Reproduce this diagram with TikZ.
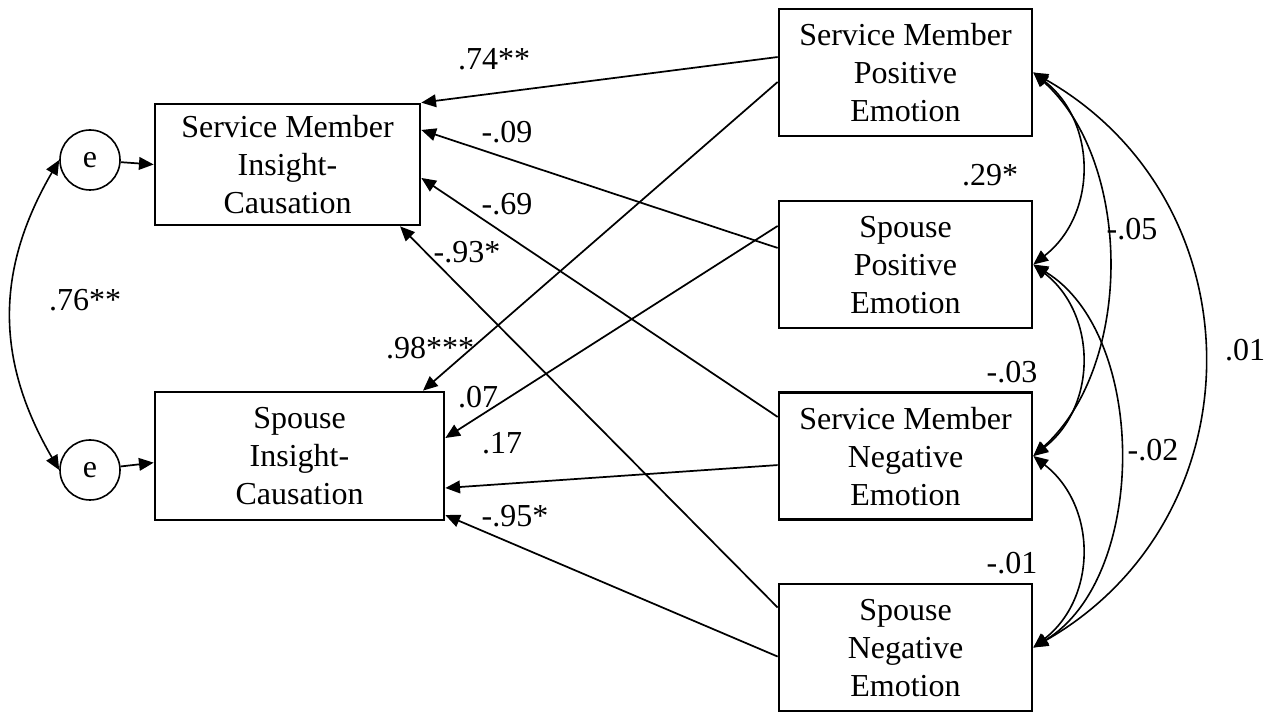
\documentclass[tikz,border=0pt]{standalone}
\usepackage{fontspec}
\setmainfont{Liberation Serif}
\usetikzlibrary{arrows.meta}

\begin{document}
\begin{tikzpicture}[x=0.75pt,y=-0.75pt]
\tikzset{varbox/.style={draw,line width=2pt,align=center,inner sep=0pt,text depth=-5pt,minimum width=189.75pt,minimum height=95.25pt}}
\tikzset{errnode/.style={draw,circle,line width=1.2pt,minimum size=45pt,inner sep=0pt}}
\tikzset{regarrow/.style={-{Triangle[length=11pt,width=9.5pt]},line width=1.3pt}}
\tikzset{covarrow/.style={{Triangle[length=11pt,width=9.5pt]}-{Triangle[length=11pt,width=9.5pt]},line width=1.2pt}}
\tikzset{coeflabel/.style={inner sep=0pt}}

\fontsize{24}{28.5}\selectfont

\useasboundingbox (0,0) rectangle (1278,712);

\node[varbox,minimum width=198.75pt,minimum height=90.75pt] (smic) at (287.5,164.5) {Service Member\\Insight-\\Causation};
\node[varbox,minimum width=216.75pt,minimum height=96pt] (sic) at (299.5,456) {Spouse\\Insight-\\Causation};
\node[varbox] (smpe) at (905.5,72.5) {Service Member\\Positive\\Emotion};
\node[varbox] (spe) at (905.5,264.5) {Spouse\\Positive\\Emotion};
\node[varbox] (smne) at (905.5,456) {Service Member\\Negative\\Emotion};
\node[varbox] (sne) at (905.5,647.5) {Spouse\\Negative\\Emotion};
\node[errnode] (e1) at (90,160) {e};
\node[errnode] (e2) at (90,470) {e};

\draw[regarrow] (e1) -- (smic.west);
\draw[regarrow] (e2) -- ([yshift=-5pt]sic.west);
\draw[covarrow] (e1.west) .. controls +(-64,110) and +(-64,-110) .. (e2.west);

\draw[regarrow] ([yshift=11.6pt]smpe.west) -- (smic.north east);
\draw[regarrow] ([yshift=12.4pt]spe.west) -- ([yshift=25.9pt]smic.east);
\draw[regarrow] ([yshift=29.3pt]smne.west) -- ([yshift=-10.1pt]smic.east);
\draw[regarrow] ([yshift=30pt]sne.west) -- ([xshift=84.4pt]smic.south);
\draw[regarrow] ([yshift=-7.1pt]smpe.west) -- ([xshift=92.6pt]sic.north);
\draw[regarrow] ([yshift=28.9pt]spe.west) -- ([yshift=13.5pt]sic.east);
\draw[regarrow] ([yshift=-6.8pt]smne.west) -- ([yshift=-24pt]sic.east);
\draw[regarrow] ([yshift=-6.8pt]sne.west) -- ([yshift=-44.3pt]sic.east);

\draw[covarrow] (smpe.east) .. controls +(64,50) and +(64,-50) .. (spe.east);
\draw[covarrow] (smpe.east) .. controls +(100,90) and +(100,-90) .. (smne.east);
\draw[covarrow] (smpe.east) .. controls +(227,130) and +(227,-130) .. (sne.east);
\draw[covarrow] (spe.east) .. controls +(64,50) and +(64,-50) .. (smne.east);
\draw[covarrow] (spe.east) .. controls +(115,70) and +(115,-70) .. (sne.east);
\draw[covarrow] (smne.east) .. controls +(64,50) and +(64,-50) .. (sne.east);

\node[coeflabel] (c76) at (85,300) {.76**};
\node[coeflabel] (c74) at (494,59) {.74**};
\node[coeflabel] (c09) at (507,132) {-.09};
\node[coeflabel] (c69) at (507,204) {-.69};
\node[coeflabel] (c93) at (467,252) {-.93*};
\node[coeflabel] (c98) at (430,348) {.98***};
\node[coeflabel] (c07) at (478,397) {.07};
\node[coeflabel] (c17) at (502,443) {.17};
\node[coeflabel] (c95) at (515,516) {-.95*};
\node[coeflabel] (c29) at (990,175) {.29*};
\node[coeflabel] (c03) at (1012,372) {-.03};
\node[coeflabel] (c01) at (1012,563) {-.01};
\node[coeflabel] (c05) at (1132,229) {-.05};
\node[coeflabel] (c02) at (1153,450) {-.02};
\node[coeflabel] (c01b) at (1245,350) {.01};
\end{tikzpicture}
\end{document}
